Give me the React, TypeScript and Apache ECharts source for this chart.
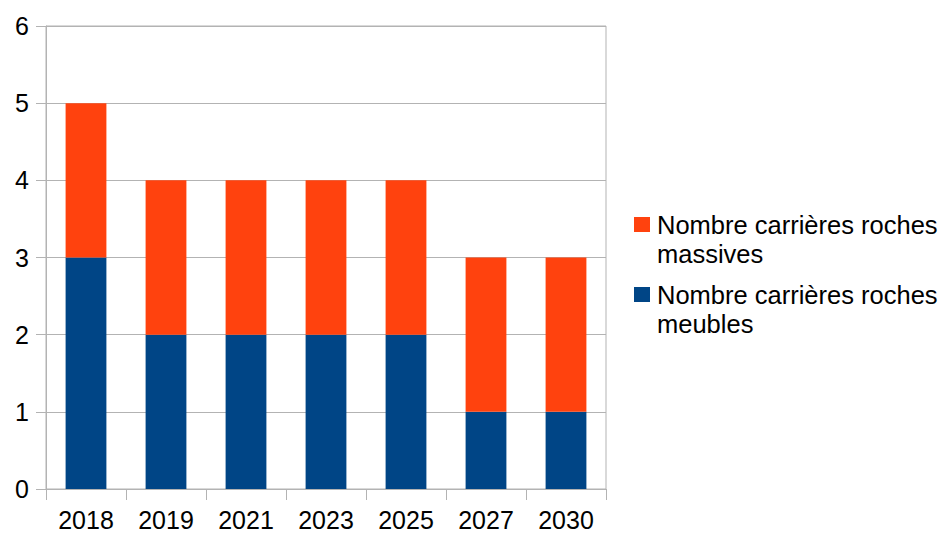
import React, { useEffect, useRef } from "react";
import * as echarts from "echarts";

const categories = ["2018", "2019", "2021", "2023", "2025", "2027", "2030"];
const meubles = [3, 2, 2, 2, 2, 1, 1];
const massives = [2, 2, 2, 2, 2, 2, 2];
const seriesNames = ["Nombre carrières roches meubles", "Nombre carrières roches massives"];
const legendLines: Record<string, string[]> = {
  "Nombre carrières roches meubles": ["Nombre carrières roches", "meubles"],
  "Nombre carrières roches massives": ["Nombre carrières roches", "massives"],
};

export default function App() {
  const ref = useRef<HTMLDivElement>(null);
  useEffect(() => {
    if (!ref.current) return;
    const chart = echarts.init(ref.current, undefined, { renderer: "svg" });
    const font = "'Liberation Sans', Arial, sans-serif";
    const L = 29;
    chart.setOption({
      animation: false,
      backgroundColor: "#ffffff",
      textStyle: { fontFamily: font },
      grid: {
        left: 46,
        right: 338,
        top: 26,
        bottom: 44,
        show: true,
        borderColor: "#b3b3b3",
        borderWidth: 1,
        containLabel: false,
      },
      legend: {
        orient: "vertical",
        left: 634,
        top: 181,
        padding: 0,
        itemWidth: 16,
        itemHeight: 15,
        itemGap: -17,
        icon: "rect",
        data: [seriesNames[1], seriesNames[0]],
        formatter: (n: string) => {
          const lines = legendLines[n] || [n];
          return "{s| }\n" + lines.map((l) => "{a|" + l + "}").join("\n");
        },
        textStyle: {
          fontFamily: font,
          fontSize: 25.5,
          color: "#000",
          lineHeight: L,
          rich: {
            s: { fontSize: 25.5, lineHeight: L, fontFamily: font },
            a: { fontSize: 25.5, lineHeight: L, fontFamily: font, color: "#000", padding: [0, 0, 0, 2] },
          },
        },
      },
      xAxis: {
        type: "category",
        data: categories,
        axisLine: { show: true, lineStyle: { color: "#b3b3b3" } },
        axisTick: { show: true, length: 11, lineStyle: { color: "#b3b3b3" } },
        axisLabel: { color: "#000", fontSize: 25, fontFamily: font, margin: 18 },
        splitLine: { show: false },
      },
      yAxis: {
        type: "value",
        min: 0,
        max: 6,
        interval: 1,
        axisLine: { show: true, lineStyle: { color: "#b3b3b3" } },
        axisTick: { show: true, length: 10, lineStyle: { color: "#b3b3b3" } },
        axisLabel: { color: "#000", fontSize: 25, fontFamily: font, margin: 17 },
        splitLine: { show: true, lineStyle: { color: "#b3b3b3" } },
      },
      series: [
        {
          name: seriesNames[0],
          type: "bar",
          stack: "total",
          data: meubles,
          barWidth: "51%",
          itemStyle: { color: "#004586" },
        },
        {
          name: seriesNames[1],
          type: "bar",
          stack: "total",
          data: massives,
          barWidth: "51%",
          itemStyle: { color: "#ff420e" },
        },
      ],
    });
    return () => chart.dispose();
  }, []);
  return <div ref={ref} style={{ width: 944, height: 533, position: "absolute", left: 0, top: 0 }} />;
}
